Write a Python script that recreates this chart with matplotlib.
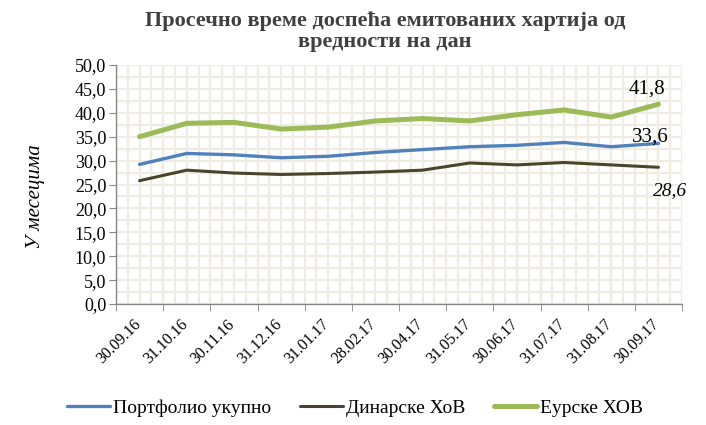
import numpy as np
import matplotlib.pyplot as plt
import matplotlib.transforms as mtransforms
from matplotlib.ticker import FuncFormatter, FixedLocator

plt.rcParams['font.family'] = ['Liberation Serif', 'DejaVu Serif']

dates = ["30.09.16", "31.10.16", "30.11.16", "31.12.16", "31.01.17", "28.02.17",
         "30.04.17", "31.05.17", "30.06.17", "31.07.17", "31.08.17", "30.09.17"]
portfolio = [29.2, 31.5, 31.2, 30.6, 30.9, 31.7, 32.3, 32.9, 33.2, 33.8, 32.9, 33.6]
dinar = [25.8, 28.0, 27.4, 27.1, 27.3, 27.6, 28.0, 29.5, 29.1, 29.6, 29.1, 28.6]
euro = [35.0, 37.8, 38.0, 36.6, 37.0, 38.3, 38.8, 38.3, 39.6, 40.6, 39.1, 41.8]

def comma(v):
    return "{:.1f}".format(v).replace(".", ",")

def main():
    fig = plt.figure(figsize=(7.06, 4.25), dpi=100)
    ax = fig.add_axes([116/706, 1-304/425, 566/706, 239/425])
    x = np.arange(len(dates))

    # background pattern (small grid)
    pat = "#EFECE1"
    ax.hlines(np.arange(0, 50.1, 2.5), -0.5, 11.5, color=pat, lw=1.6, zorder=0)
    ax.vlines(np.arange(-0.5, 11.6, 0.25), 0, 50, color=pat, lw=1.6, zorder=0)

    h1, = ax.plot(x, portfolio, color="#4F81BD", lw=2.4, label="Портфолио укупно", solid_capstyle="round")
    h2, = ax.plot(x, dinar, color="#4A452A", lw=2.2, label="Динарске ХоВ", solid_capstyle="round")
    h3, = ax.plot(x, euro, color="#9BBB59", lw=3.6, label="Еурске ХОВ", solid_capstyle="round")

    ax.text(x[-1] - 0.24, euro[-1] + 2.3, comma(euro[-1]), fontsize=15, ha="center", va="baseline")
    ax.text(x[-1] - 0.17, portfolio[-1] + 0.3, comma(portfolio[-1]), fontsize=15, ha="center", va="baseline")
    ax.text(x[-1] + 0.25, dinar[-1] - 5.8, comma(dinar[-1]), fontsize=14, style="italic", ha="center", va="baseline")

    ax.set_xlim(-0.5, 11.5)
    ax.set_ylim(0, 50)
    ax.set_yticks(np.arange(0, 50.1, 5))
    ax.yaxis.set_major_formatter(FuncFormatter(lambda v, p: comma(v)))
    ax.set_xticks(x)
    ax.set_xticklabels(dates, rotation=45, ha="right", rotation_mode="anchor")
    ax.xaxis.set_minor_locator(FixedLocator(np.arange(-0.5, 11.6, 1)))
    ax.tick_params(axis="x", which="major", length=0, pad=9, labelsize=11.5)
    ax.tick_params(axis="x", which="minor", length=5, color="#868686")
    ax.tick_params(axis="y", length=5, color="#868686", labelsize=13, pad=2)
    offset = mtransforms.ScaledTranslation(-0.07, 0, fig.dpi_scale_trans)
    for lab in ax.get_xticklabels():
        lab.set_transform(lab.get_transform() + offset)

    for s in ["top", "right"]:
        ax.spines[s].set_visible(False)
    for s in ["left", "bottom"]:
        ax.spines[s].set_color("#868686")
        ax.spines[s].set_linewidth(1.0)

    ax.set_ylabel("У месецима", fontsize=15, style="italic")
    ax.yaxis.set_label_coords(-0.125, 0.45)

    fig.text(385/706, 1-11/425, "Просечно време доспећа емитованих хартија од\nвредности на дан",
             ha="center", va="top", fontsize=16, fontweight="bold", color="#404040", linespacing=1.05)

    fig.legend(handles=[h1, h2, h3], loc="center", bbox_to_anchor=(355/706, 1-408/425), ncol=3,
               frameon=False, fontsize=14, handlelength=2.2, handletextpad=0.15, columnspacing=1.5)

    fig.savefig("out.png", dpi=100)

if __name__ == "__main__":
    main()
